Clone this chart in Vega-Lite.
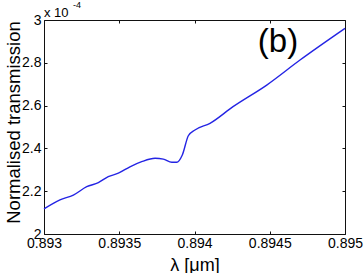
{
  "$schema": "https://vega.github.io/schema/vega-lite/v6.json",
  "width": 301,
  "height": 214,
  "autosize": {"type": "none"},
  "padding": {"left": 44, "top": 20, "right": 19, "bottom": 39},
  "config": {
    "font": "Liberation Sans",
    "view": {"stroke": "#111", "strokeWidth": 1},
    "axis": {
      "domain": false,
      "grid": false,
      "tickSize": -3,
      "tickColor": "#111",
      "labelColor": "#000",
      "labelFontSize": 14,
      "labelFont": "Liberation Sans",
      "labelFlush": false,
      "labelOverlap": false,
      "labelBound": false,
      "titleColor": "#000",
      "titleFont": "Liberation Sans",
      "titleFontWeight": "normal",
      "titleFontSize": 16
    }
  },
  "datasets": {
    "curve": [
      {"wavelength": 0.893, "transmission": 2.117},
      {"wavelength": 0.893106, "transmission": 2.159},
      {"wavelength": 0.893195, "transmission": 2.182},
      {"wavelength": 0.893284, "transmission": 2.221},
      {"wavelength": 0.893361, "transmission": 2.24},
      {"wavelength": 0.893427, "transmission": 2.268},
      {"wavelength": 0.893494, "transmission": 2.284},
      {"wavelength": 0.893571, "transmission": 2.314},
      {"wavelength": 0.893649, "transmission": 2.338},
      {"wavelength": 0.893738, "transmission": 2.354},
      {"wavelength": 0.893793, "transmission": 2.35},
      {"wavelength": 0.893849, "transmission": 2.335},
      {"wavelength": 0.893882, "transmission": 2.335},
      {"wavelength": 0.893919, "transmission": 2.369},
      {"wavelength": 0.893959, "transmission": 2.459},
      {"wavelength": 0.894003, "transmission": 2.486},
      {"wavelength": 0.894103, "transmission": 2.517},
      {"wavelength": 0.894256, "transmission": 2.595},
      {"wavelength": 0.89448, "transmission": 2.696},
      {"wavelength": 0.894701, "transmission": 2.813},
      {"wavelength": 0.895, "transmission": 2.961}
    ],
    "panel": [{"wavelength": 0.894555, "transmission": 2.897, "label": "(b)"}],
    "expbase": [{"wavelength": 0.893, "transmission": 3.0, "label": "x 10"}],
    "exppow": [{"wavelength": 0.893193, "transmission": 3.0, "label": "-4"}]
  },
  "layer": [
    {
      "data": {"name": "curve"},
      "mark": {"type": "line", "color": "#2424e4", "strokeWidth": 1.4, "interpolate": "monotone"},
      "encoding": {
        "x": {
          "field": "wavelength", "type": "quantitative",
          "scale": {"domain": [0.893, 0.895], "nice": false, "zero": false},
          "axis": {"orient": "bottom", "values": [0.893, 0.8935, 0.894, 0.8945, 0.895], "format": "~g", "title": "λ [μm]", "labelPadding": 5, "titlePadding": 6, "titleFontSize": 18}
        },
        "y": {
          "field": "transmission", "type": "quantitative",
          "scale": {"domain": [2, 3], "nice": false, "zero": false},
          "axis": {"orient": "left", "values": [2, 2.2, 2.4, 2.6, 2.8, 3], "format": "~g", "title": "Normalised transmission", "labelPadding": 6, "titleFontSize": 18.5, "titleX": -25, "titleY": 102, "titleBaseline": "alphabetic", "titleAlign": "center", "titleAngle": 270}
        }
      }
    },
    {
      "data": {"name": "curve"},
      "mark": {"type": "line", "opacity": 0},
      "encoding": {
        "x": {"field": "wavelength", "type": "quantitative", "axis": {"orient": "top", "values": [0.893, 0.8935, 0.894, 0.8945, 0.895], "labels": false, "title": null}},
        "y": {"field": "transmission", "type": "quantitative", "axis": {"orient": "right", "values": [2, 2.2, 2.4, 2.6, 2.8, 3], "labels": false, "title": null}}
      }
    },
    {
      "data": {"name": "panel"},
      "mark": {"type": "text", "fontSize": 33, "align": "center", "baseline": "middle", "color": "#000"},
      "encoding": {
        "x": {"field": "wavelength", "type": "quantitative", "axis": null},
        "y": {"field": "transmission", "type": "quantitative", "axis": null},
        "text": {"field": "label"}
      }
    },
    {
      "data": {"name": "expbase"},
      "mark": {"type": "text", "fontSize": 13, "align": "left", "baseline": "alphabetic", "dy": -3, "color": "#000"},
      "encoding": {
        "x": {"field": "wavelength", "type": "quantitative", "axis": null},
        "y": {"field": "transmission", "type": "quantitative", "axis": null},
        "text": {"field": "label"}
      }
    },
    {
      "data": {"name": "exppow"},
      "mark": {"type": "text", "fontSize": 9, "align": "left", "baseline": "alphabetic", "dy": -12, "color": "#000"},
      "encoding": {
        "x": {"field": "wavelength", "type": "quantitative", "axis": null},
        "y": {"field": "transmission", "type": "quantitative", "axis": null},
        "text": {"field": "label"}
      }
    }
  ],
  "resolve": {"axis": {"x": "independent", "y": "independent"}}
}
